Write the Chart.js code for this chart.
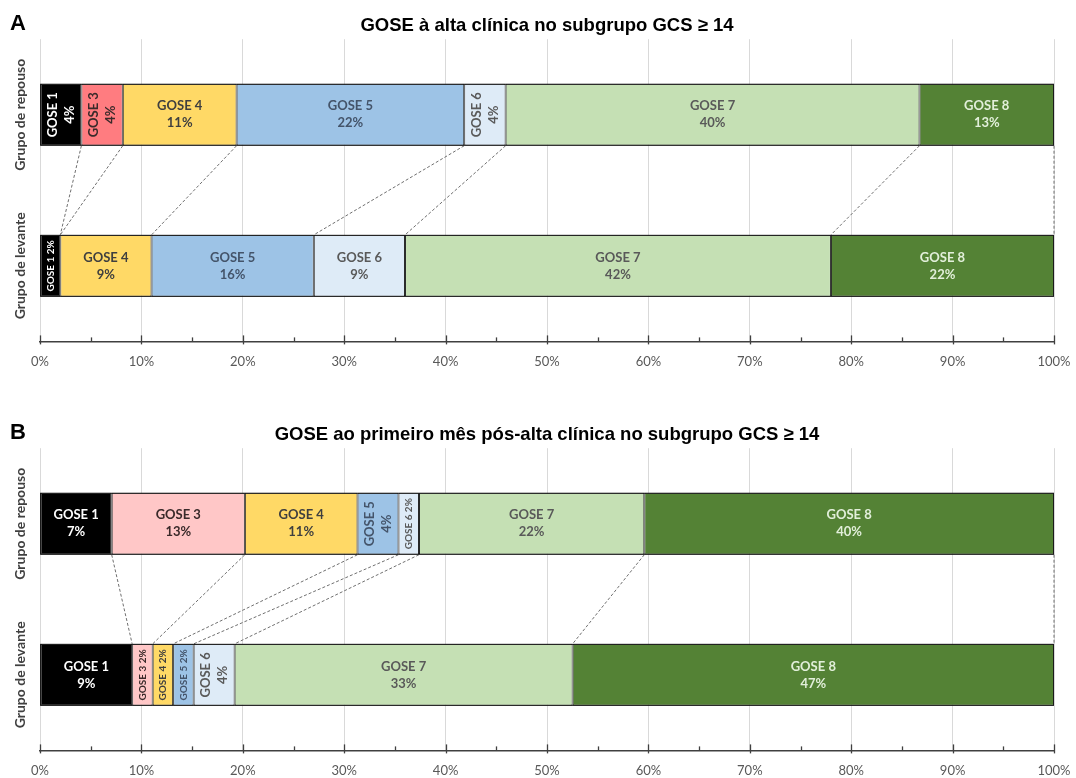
<!DOCTYPE html>
<html>
<head>
<meta charset="utf-8">
<script src="https://cdn.jsdelivr.net/npm/chart.js@4.4.0/dist/chart.umd.min.js"></script>
<style>
  html, body { margin: 0; padding: 0; background: #fff; overflow: hidden; }
  .panel { position: absolute; left: 0; width: 1076px; height: 387px; }
  #pA { top: 0; }
  #pB { top: 409px; }
</style>
</head>
<body>
<div class="panel" id="pA"><canvas id="chartA"></canvas></div>
<div class="panel" id="pB"><canvas id="chartB"></canvas></div>
<script>
// Data (percentages as printed on the bars)
const groups = ['Grupo de repouso', 'Grupo de levante'];
const goseLevels = ['GOSE 1', 'GOSE 3', 'GOSE 4', 'GOSE 5', 'GOSE 6', 'GOSE 7', 'GOSE 8'];
const xTickLabels = ['0%', '10%', '20%', '30%', '40%', '50%', '60%', '70%', '80%', '90%', '100%'];

const titleA = 'GOSE à alta clínica no subgrupo GCS ≥ 14';
const repousoA = [4, 4, 11, 22, 4, 40, 13];
const levanteA = [2, 0, 9, 16, 9, 42, 22];

const titleB = 'GOSE ao primeiro mês pós-alta clínica no subgrupo GCS ≥ 14';
const repousoB = [7, 13, 11, 4, 2, 22, 40];
const levanteB = [9, 2, 2, 2, 4, 33, 47];

// Styles
const fillsA = ['#000000', '#FF7C80', '#FFD966', '#9DC3E6', '#DEEBF7', '#C5E0B4', '#548235'];
const fillsB = ['#000000', '#FFC7C7', '#FFD966', '#9DC3E6', '#DEEBF7', '#C5E0B4', '#548235'];
const textColors = ['#FFFFFF', '#3A2A2A', '#3F3F3F', '#44546A', '#595959', '#595959', '#E2EFDA'];
const edge = '#1A1A1A';
const axisColor = '#404040';
const labelFont = 'Lato';

const sum = arr => arr.reduce((a, b) => a + b, 0);

// bars are drawn as 100% stacked (each group normalised to its own total)
function buildDatasets(rep, lev, fills) {
    const tr = sum(rep), tl = sum(lev);
    return goseLevels.map((g, i) => ({
        label: g,
        data: [rep[i] / tr * 100, lev[i] / tl * 100],
        raw: [rep[i], lev[i]],
        backgroundColor: fills[i],
        borderColor: edge,
        borderWidth: ctx => (ctx.raw === 0 ? 0 : 1),
        borderSkipped: false,
        barPercentage: 0.41,
        categoryPercentage: 1.0,
        textColor: textColors[i]
    }));
}

const panelDecor = {
    id: 'panelDecor',
    beforeDatasetsDraw(chart) {
        // dashed series lines joining segment ends of the two bars
        const ctx = chart.ctx, xs = chart.scales.x;
        const m = chart.getDatasetMeta(0);
        const top = m.data[0], bot = m.data[1];
        const y0 = top.y + top.height / 2, y1 = bot.y - bot.height / 2;
        let c0 = 0, c1 = 0;
        ctx.save();
        ctx.setLineDash([3, 2]);
        ctx.strokeStyle = '#6F6F6F';
        ctx.lineWidth = 1;
        chart.data.datasets.forEach(d => {
            c0 += d.data[0];
            c1 += d.data[1];
            ctx.beginPath();
            ctx.moveTo(xs.getPixelForValue(c0), y0);
            ctx.lineTo(xs.getPixelForValue(c1), y1);
            ctx.stroke();
        });
        ctx.restore();
    },
    afterDatasetsDraw(chart) {
        const ctx = chart.ctx, xs = chart.scales.x;
        ctx.save();
        // outline around each whole bar
        const m = chart.getDatasetMeta(0);
        m.data.forEach(el => {
            ctx.strokeStyle = edge;
            ctx.lineWidth = 1;
            const l = xs.getPixelForValue(0), r = xs.getPixelForValue(100);
            ctx.strokeRect(l + 0.5, el.y - el.height / 2 + 0.5, r - l - 1, el.height - 1);
        });
        // segment labels
        chart.data.datasets.forEach((d, i) => {
            chart.getDatasetMeta(i).data.forEach((el, j) => {
                const v = d.raw[j];
                if (!v) return;
                const w = Math.abs(el.x - el.base);
                const cx = (el.x + el.base) / 2, cy = el.y;
                ctx.fillStyle = d.textColor;
                ctx.textAlign = 'center';
                ctx.textBaseline = 'middle';
                if (w >= 60) {
                    ctx.font = 'bold 13px ' + labelFont;
                    ctx.fillText(d.label, cx, cy - 8.5);
                    ctx.fillText(v + '%', cx, cy + 8.5);
                } else {
                    ctx.save();
                    ctx.translate(cx, cy);
                    ctx.rotate(-Math.PI / 2);
                    if (w >= 30) {
                        ctx.font = 'bold 13px ' + labelFont;
                        ctx.fillText(d.label, 0, -8.5);
                        ctx.fillText(v + '%', 0, 8.5);
                    } else {
                        ctx.font = 'bold 10px ' + labelFont;
                        ctx.fillText(d.label + ' ' + v + '%', 0, 0);
                    }
                    ctx.restore();
                }
            });
        });
        ctx.restore();
    },
    afterDraw(chart, args, opts) {
        const ctx = chart.ctx, xs = chart.scales.x, ys = chart.scales.y;
        const area = chart.chartArea;
        ctx.save();
        // panel letter
        ctx.fillStyle = '#000';
        ctx.font = 'bold 22px "Liberation Sans", Arial, sans-serif';
        ctx.textAlign = 'left';
        ctx.textBaseline = 'alphabetic';
        ctx.fillText(opts.letter, 10, 30);
        // group names, rotated
        ctx.fillStyle = axisColor;
        ctx.font = 'bold 14px ' + labelFont;
        ctx.textAlign = 'center';
        ctx.textBaseline = 'middle';
        groups.forEach((g, j) => {
            ctx.save();
            ctx.translate(20, ys.getPixelForValue(j));
            ctx.rotate(-Math.PI / 2);
            ctx.fillText(g, 0, 0);
            ctx.restore();
        });
        // major (cross) and minor (inside) tick marks
        ctx.strokeStyle = axisColor;
        ctx.lineWidth = 1.3;
        const yb = area.bottom;
        for (let v = 0; v <= 100; v += 5) {
            const px = Math.round(xs.getPixelForValue(v)) + 0.5;
            ctx.beginPath();
            if (v % 10 === 0) {
                ctx.moveTo(px, yb - 6);
                ctx.lineTo(px, yb + 3);
            } else {
                ctx.moveTo(px, yb - 4);
                ctx.lineTo(px, yb);
            }
            ctx.stroke();
        }
        ctx.restore();
    }
};

function makeChart(canvasId, title, letter, rep, lev, fills) {
    return new Chart(document.getElementById(canvasId), {
        type: 'bar',
        data: {
            labels: groups,
            datasets: buildDatasets(rep, lev, fills)
        },
        options: {
            indexAxis: 'y',
            responsive: true,
            maintainAspectRatio: false,
            animation: false,
            layout: { padding: { left: 40, right: 22, top: 0, bottom: 4 } },
            plugins: {
                legend: { display: false },
                tooltip: { enabled: false },
                title: {
                    display: true,
                    text: title,
                    color: '#000',
                    font: { family: '"Liberation Sans", Arial, sans-serif', size: 18.5, weight: 'bold' },
                    padding: { top: 15, bottom: 2 }
                },
                panelDecor: { letter }
            },
            scales: {
                x: {
                    type: 'linear',
                    stacked: true,
                    min: 0,
                    max: 100,
                    grid: { color: '#D9D9D9', drawTicks: false },
                    border: { display: true, color: axisColor, width: 1.5 },
                    afterFit: s => { s.paddingLeft = 0; s.paddingRight = 0; },
                    ticks: {
                        stepSize: 10,
                        padding: 13,
                        color: '#595959',
                        font: { family: labelFont, size: 13 },
                        callback: (v, i) => xTickLabels[i]
                    }
                },
                y: {
                    type: 'category',
                    stacked: true,
                    display: false
                }
            }
        },
        plugins: [panelDecor]
    });
}

makeChart('chartA', titleA, 'A', repousoA, levanteA, fillsA);
makeChart('chartB', titleB, 'B', repousoB, levanteB, fillsB);
</script>
</body>
</html>
